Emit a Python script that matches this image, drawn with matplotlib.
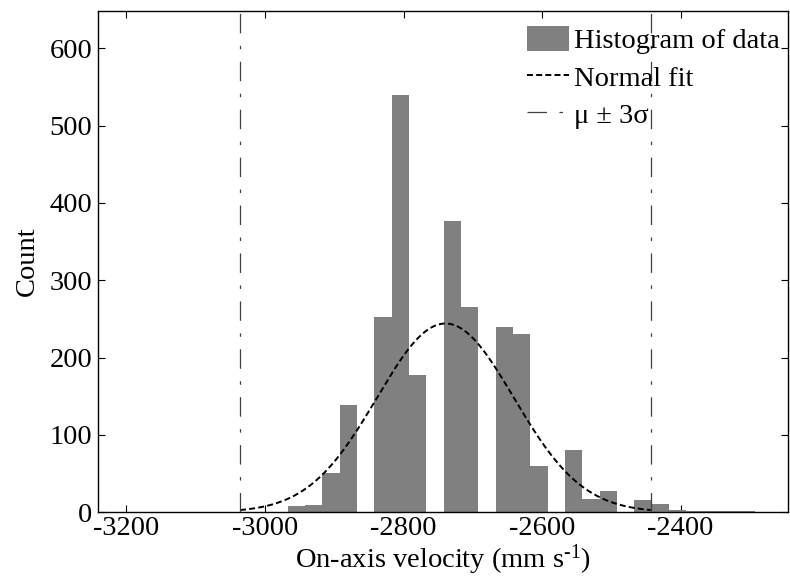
import numpy as np
import matplotlib
matplotlib.use("Agg")
import matplotlib.pyplot as plt

# ---- data ----
bin_left_edges = [-2967, -2942, -2917, -2892, -2867, -2842, -2817, -2792, -2767,
                  -2742, -2717, -2692, -2667, -2642, -2617, -2592, -2567, -2542,
                  -2517, -2492, -2467, -2442, -2417, -2392, -2367, -2342, -2317]
counts = [8, 9, 50, 138, 0, 252, 540, 178, 0,
          376, 266, 0, 240, 230, 60, 0, 80, 17,
          27, 0, 16, 10, 3, 2, 1, 1, 2]
bin_width = 25
fit_mu = -2739.5
fit_sigma = 98.8
fit_peak = 244
x_ticks = [-3200, -3000, -2800, -2600, -2400]
y_ticks = [0, 100, 200, 300, 400, 500, 600]

plt.rcParams['font.family'] = ['Liberation Serif', 'DejaVu Serif']
plt.rcParams['mathtext.fontset'] = 'custom'
plt.rcParams['mathtext.rm'] = 'Liberation Serif'
plt.rcParams['mathtext.it'] = 'Liberation Serif:italic'
plt.rcParams['lines.scale_dashes'] = False
fs = 20.5

fig = plt.figure(figsize=(7.9, 5.88), dpi=100)
ax = fig.add_axes([0.124, 0.129, 0.8735, 0.852])

h_bar = ax.bar(bin_left_edges, counts, width=bin_width, align='edge', color='#808080',
               edgecolor='none', linewidth=0, zorder=2)

xs = np.linspace(fit_mu - 3 * fit_sigma, fit_mu + 3 * fit_sigma, 400)
ys = fit_peak * np.exp(-0.5 * ((xs - fit_mu) / fit_sigma) ** 2)
h_fit, = ax.plot(xs, ys, color='black', linewidth=1.4, linestyle=(0, (4.3, 2.3)),
                 zorder=3)

dd = (0, (14, 9, 2.5, 9))
h_sig = ax.axvline(fit_mu - 3 * fit_sigma, color='#404040', linewidth=0.9,
                   linestyle=dd, zorder=3)
ax.axvline(fit_mu + 3 * fit_sigma, color='#404040', linewidth=0.9, linestyle=dd,
           zorder=3)

ax.set_xlim(-3241, -2245)
ax.set_ylim(0, 648)
ax.set_xticks(x_ticks)
ax.set_yticks(y_ticks)
ax.set_xticklabels([str(v) for v in x_ticks])
ax.tick_params(direction='in', length=5, width=0.8, top=True, right=True,
               labelsize=fs)
ax.tick_params(axis='x', pad=3)
ax.tick_params(axis='y', pad=4)
for s in ax.spines.values():
    s.set_linewidth(1.0)

ax.set_xlabel(r'On-axis velocity (mm s$^{\text{-1}}$)', fontsize=fs, labelpad=1)
ax.set_ylabel('Count', fontsize=fs, labelpad=7)

leg = ax.legend([h_bar, h_fit, h_sig], ['Histogram of data', 'Normal fit', 'μ ± 3σ'],
                loc='upper right', bbox_to_anchor=(1.0, 0.988),
                frameon=False, fontsize=fs, handlelength=1.47,
                handleheight=1.0, handletextpad=0.18, labelspacing=0.32,
                borderaxespad=0.2, borderpad=0.1)

fig.savefig('out.png', dpi=100)
